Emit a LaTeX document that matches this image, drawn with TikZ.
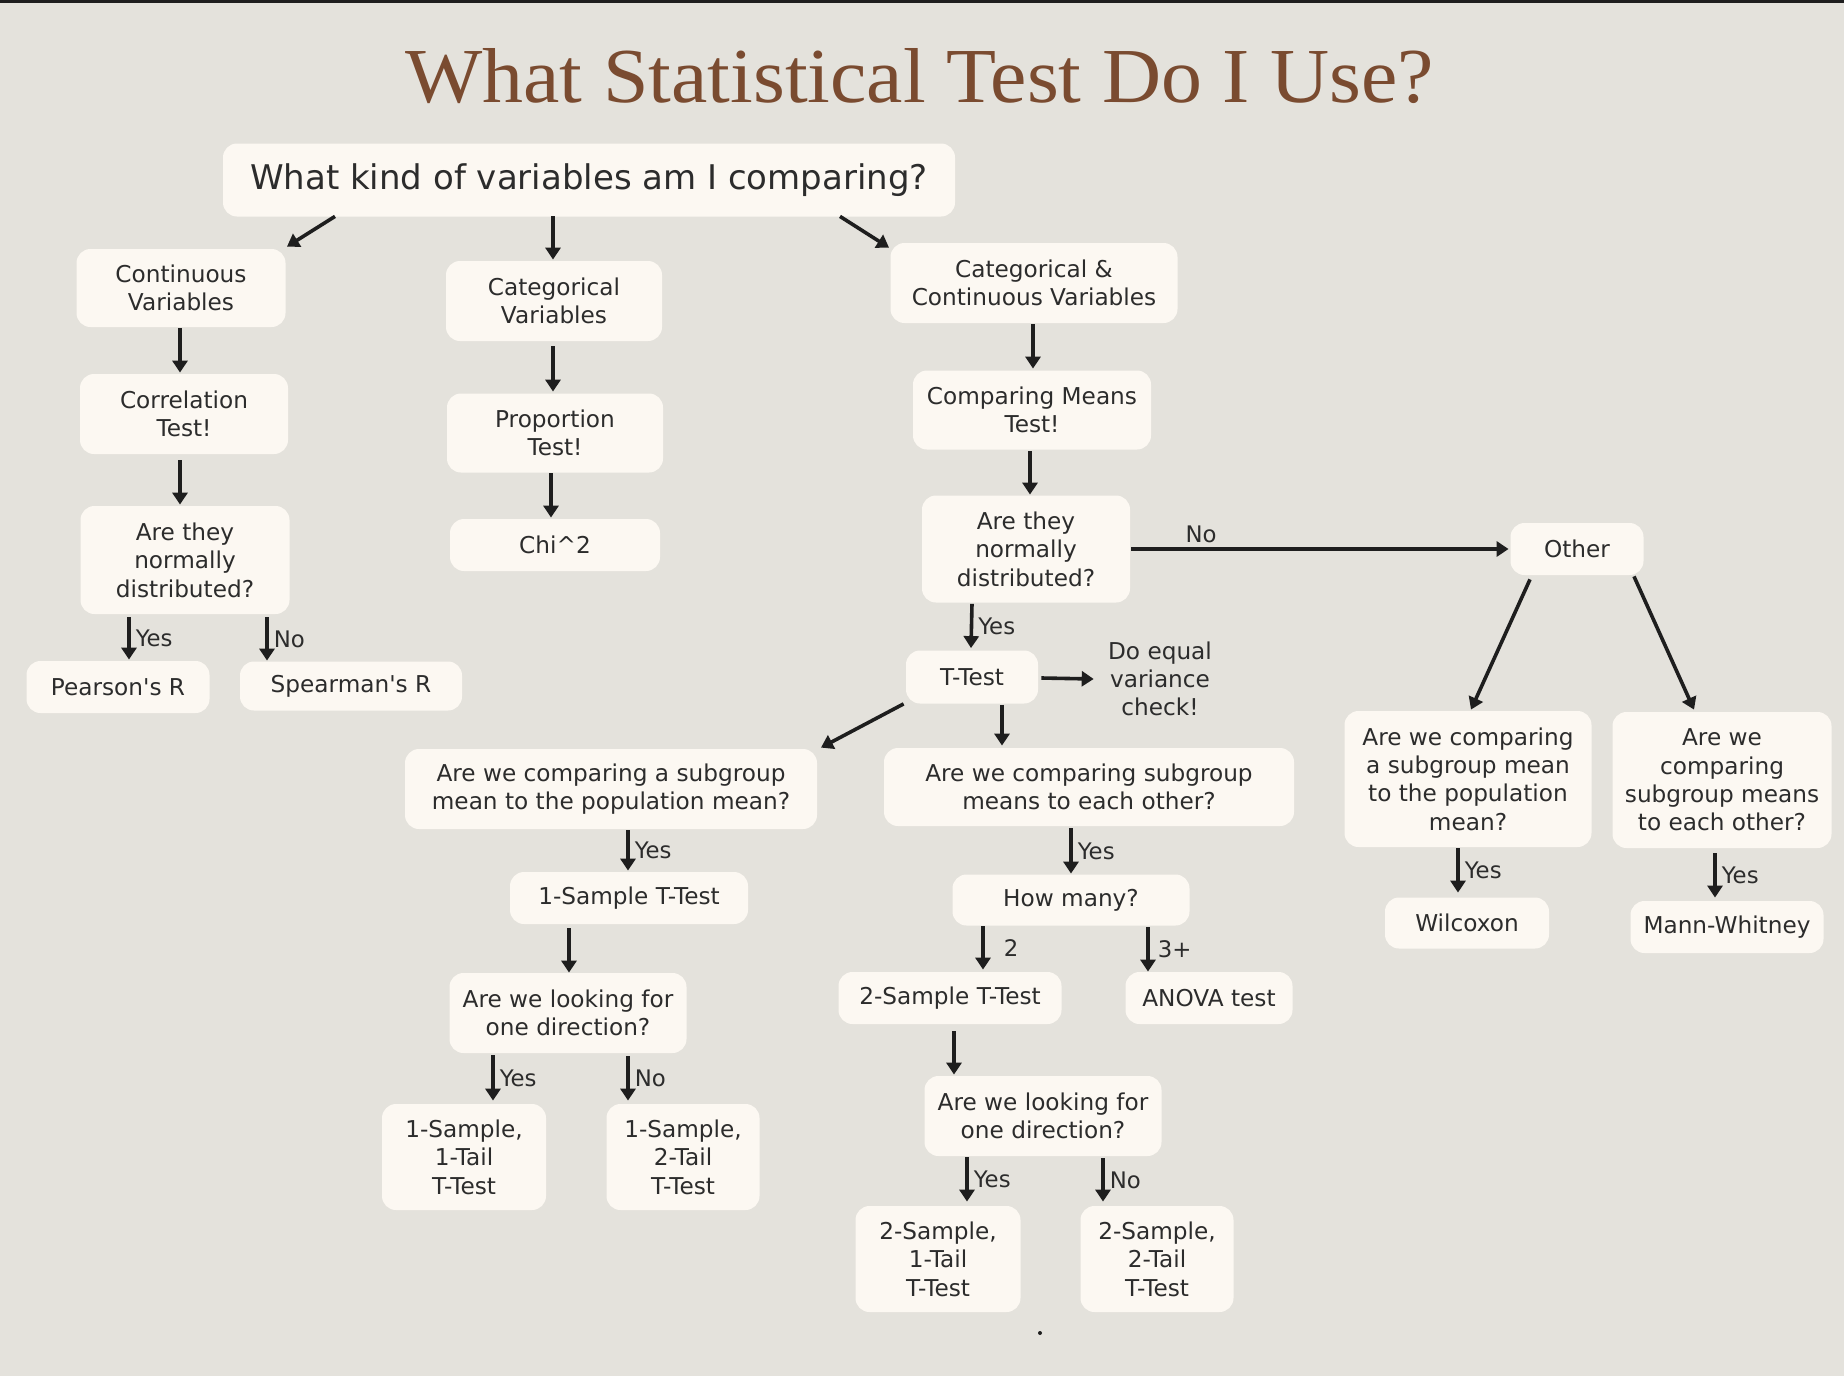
\documentclass[tikz,border=0pt]{standalone}
\usepackage{fontspec}
\setmainfont{DejaVu Sans}[Ligatures=TeXOff]
\newfontfamily\titlefont{Liberation Serif}
\usetikzlibrary{arrows.meta,calc}
\definecolor{bgc}{HTML}{E4E2DC}
\definecolor{boxc}{HTML}{FCF8F2}
\definecolor{txtc}{HTML}{2C2C2C}
\definecolor{titc}{HTML}{7A4B30}
\definecolor{arrc}{HTML}{1E1E1E}
\begin{document}
\begin{tikzpicture}[x=0.5pt,y=-0.5pt,
  box/.style={fill=boxc, rounded corners=7pt, align=center, inner sep=0pt, text=txtc,
    font=\fontsize{11.6}{14.2}\selectfont},
  sz/.style 2 args={minimum width={#1*0.5pt}, minimum height={#2*0.5pt}},
  plain/.style={align=center, inner sep=0pt, text=txtc, font=\fontsize{11.6}{14}\selectfont},
  arr/.style={draw=arrc, line width=1.8pt, -{Triangle[length=6pt,width=7.5pt]}},
  lbl/.style={text=txtc, font=\fontsize{11.4}{14}\selectfont, inner sep=1pt, anchor=west, xshift=1.5pt}]
\useasboundingbox (0,0) rectangle (1844,1376);
\fill[bgc] (0,0) rectangle (1844,1376);
\fill[arrc] (0,0) rectangle (1844,3);
% title
\node[inner sep=0pt, anchor=south west, text=titc] (title) at (405,104)
  {\resizebox{514pt}{27pt}{\titlefont What Statistical Test Do I Use?}};
% nodes
\node[box, sz={732}{73}, font=\fontsize{17}{20}\selectfont] (root) at (589,180) {What kind of variables am I comparing?};
\node[box, sz={209}{78}] (cont) at (181,288) {Continuous\\Variables};
\node[box, sz={216}{80}] (cat) at (554,301) {Categorical\\Variables};
\node[box, sz={287}{80}] (cc) at (1034,283) {Categorical \&\\Continuous Variables};
\node[box, sz={208}{80}] (corr) at (184,414) {Correlation\\Test!};
\node[box, sz={216}{79}] (prop) at (555,433) {Proportion\\Test!};
\node[box, sz={210}{52}] (chi) at (555,545) {Chi\^{}2};
\node[box, sz={238}{79}] (cmt) at (1032,410) {Comparing Means\\Test!};
\node[box, sz={209}{108}] (nd1) at (185,560) {Are they\\normally\\distributed?};
\node[box, sz={183}{52}] (pear) at (118,687) {Pearson's R};
\node[box, sz={222}{49}] (spear) at (351,686) {Spearman's R};
\node[box, sz={208}{107}] (nd2) at (1026,549) {Are they\\normally\\distributed?};
\node[box, sz={133}{52}] (other) at (1577,549) {Other};
\node[box, sz={132}{53}] (ttest) at (972,677) {T-Test};
\node[plain] (eqv) at (1160,679) {Do equal\\variance\\check!};
\node[box, sz={412}{80}] (q1) at (611,789) {Are we comparing a subgroup\\mean to the population mean?};
\node[box, sz={410}{78}] (q2) at (1089,787) {Are we comparing subgroup\\means to each other?};
\node[box, sz={247}{136}] (q3) at (1468,779) {Are we comparing\\a subgroup mean\\to the population\\mean?};
\node[box, sz={219}{136}] (q4) at (1722,780) {Are we\\comparing\\subgroup means\\to each other?};
\node[box, sz={164}{51}] (wil) at (1467,923) {Wilcoxon};
\node[box, sz={193}{52}] (mann) at (1727,927) {Mann-Whitney};
\node[box, sz={238}{52}] (s1) at (629,898) {1-Sample T-Test};
\node[box, sz={237}{51}] (hm) at (1071,900) {How many?};
\node[box, sz={237}{80}] (dir1) at (568,1013) {Are we looking for\\one direction?};
\node[box, sz={223}{52}] (s2) at (950,998) {2-Sample T-Test};
\node[box, sz={167}{52}] (anova) at (1209,998) {ANOVA test};
\node[box, sz={164}{106}] (t11) at (464,1157) {1-Sample,\\1-Tail\\T-Test};
\node[box, sz={153}{106}] (t12) at (683,1157) {1-Sample,\\2-Tail\\T-Test};
\node[box, sz={237}{80}] (dir2) at (1043,1116) {Are we looking for\\one direction?};
\node[box, sz={165}{106}] (t21) at (938,1259) {2-Sample,\\1-Tail\\T-Test};
\node[box, sz={153}{106}] (t22) at (1157,1259) {2-Sample,\\2-Tail\\T-Test};
% connectors
\draw[arr] ($(root.south)+(-254,-0.5)$) -- ($(cont.north)+(106,-2)$);
\draw[arr] ($(root.south)+(-36,-0.5)$) -- ($(cat.north)+(-1,-1)$);
\draw[arr] ($(root.south)+(251,-0.5)$) -- ($(cc.north)+(-145,5)$);
\draw[arr] ($(cont.south)+(-1,1)$) -- ($(corr.north)+(-4,-1)$);
\draw[arr] ($(corr.south)+(-4,6)$) -- ($(nd1.north)+(-5,-1)$);
\draw[arr] ($(nd1.south)+(-56,3)$) -- node[lbl]{Yes} ($(pear.north)+(11,-1)$);
\draw[arr] ($(nd1.south)+(82,3)$) -- node[lbl]{No} ($(spear.north)+(-84,-0.5)$);
\draw[arr] ($(cat.south)+(-1,5)$) -- ($(prop.north)+(-2,-1.5)$);
\draw[arr] ($(prop.south)+(-4,0.5)$) -- ($(chi.north)+(-4,-1)$);
\draw[arr] ($(cc.south)+(-1,1)$) -- ($(cmt.north)+(1,-1.5)$);
\draw[arr] ($(cmt.south)+(-2,1.5)$) -- ($(nd2.north)+(4,-0.5)$);
\draw[arr] ($(nd2.east)+(1,0)$) -- node[pos=0.185, above=1pt, text=txtc, inner sep=1pt, font=\fontsize{11.4}{14}\selectfont]{No} ($(other.west)+(-1.5,0)$);
\draw[arr] ($(nd2.south)+(-54,1)$) -- node[lbl]{Yes} ($(ttest.north)+(-1,-2)$);
\draw[arr] ($(ttest.east)+(3,1)$) -- ($(eqv.west)+(-14,0)$);
\draw[arr] ($(ttest.south west)+(-2,0)$) -- ($(q1.north)+(210,-1)$);
\draw[arr] ($(ttest.south)+(30,1)$) -- ($(q2.north)+(-87,-2)$);
\draw[arr] ($(other.south)+(-47,4)$) -- ($(q3.north)+(3,-1)$);
\draw[arr] ($(other.south)+(57,1)$) -- ($(q4.north)+(-28,-2)$);
\draw[arr] ($(q1.south)+(17,1)$) -- node[lbl]{Yes} ($(s1.north)+(-1,-1)$);
\draw[arr] ($(q2.south)+(-18,2)$) -- node[lbl]{Yes} ($(hm.north)+(0,-0.5)$);
\draw[arr] ($(s1.south)+(-60,4)$) -- ($(dir1.north)+(1,0)$);
\draw[arr] ($(dir1.south)+(-75,2)$) -- node[lbl]{Yes} ($(t11.north)+(29,-3)$);
\draw[arr] ($(dir1.south)+(60,3)$) -- node[lbl]{No} ($(t12.north)+(-55,-3)$);
\draw[arr] ($(hm.south)+(-88,0.5)$) -- node[lbl, xshift=7pt]{2} ($(s2.north)+(33,-2)$);
\draw[arr] ($(hm.south)+(77,1.5)$) -- node[lbl, xshift=1.5pt]{3+} ($(anova.north)+(-61,0)$);
\draw[arr] ($(s2.south)+(4,7)$) -- ($(dir2.north)+(-89,-1)$);
\draw[arr] ($(dir2.south)+(-76,1)$) -- node[lbl]{Yes} ($(t21.north)+(29,-4)$);
\draw[arr] ($(dir2.south)+(60,2)$) -- node[lbl]{No} ($(t22.north)+(-54,-4)$);
\draw[arr] ($(q3.south)+(-10,1)$) -- node[lbl]{Yes} ($(wil.north)+(-9,-4.5)$);
\draw[arr] ($(q4.south)+(-7,5)$) -- node[lbl]{Yes} ($(mann.north)+(-12,-3)$);
% speck
\fill[arrc] (1040,1333) circle (1pt);
\end{tikzpicture}
\end{document}
